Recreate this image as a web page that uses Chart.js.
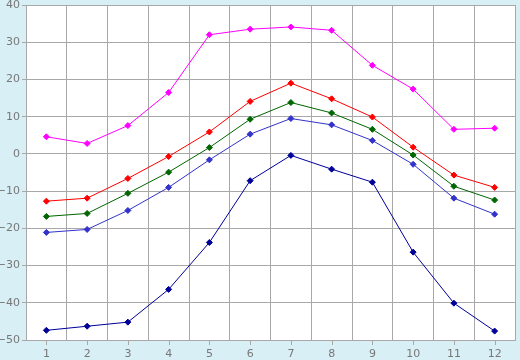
<!DOCTYPE html>
<html>
<head>
<meta charset="utf-8">
<script src="https://cdn.jsdelivr.net/npm/chart.js@4.4.1/dist/chart.umd.min.js"></script>
<style>
  html, body { margin: 0; padding: 0; background: #d9eff6; }
  #wrap { width: 520px; height: 360px; }
</style>
</head>
<body>
<div id="wrap"><canvas id="c" width="520" height="360"></canvas></div>
<script>
const categories = ['1', '2', '3', '4', '5', '6', '7', '8', '9', '10', '11', '12'];
const magentaSeries = [4.6, 2.8, 7.6, 16.5, 32.0, 33.5, 34.1, 33.2, 23.8, 17.4, 6.6, 6.9];
const redSeries = [-12.7, -11.9, -6.6, -0.7, 5.9, 14.1, 19.0, 14.8, 9.9, 1.8, -5.7, -9.0];
const greenSeries = [-16.8, -16.0, -10.6, -4.9, 1.7, 9.3, 13.8, 11.0, 6.6, -0.3, -8.7, -12.4];
const blueSeries = [-21.1, -20.3, -15.2, -9.0, -1.6, 5.3, 9.5, 7.8, 3.6, -2.8, -11.9, -16.2];
const navySeries = [-47.4, -46.3, -45.2, -36.4, -23.8, -7.2, -0.4, -4.1, -7.6, -26.4, -40.1, -47.6];
const yTicks = [-50, -40, -30, -20, -10, 0, 10, 20, 30, 40];

function ds(data, color) {
  return {
    data: data,
    borderColor: color,
    backgroundColor: color,
    borderWidth: 1,
    pointStyle: 'rectRot',
    pointRadius: 3,
    pointBorderWidth: 1,
    pointHoverRadius: 3,
    tension: 0,
    fill: false
  };
}

const plotBg = {
  id: 'plotBg',
  beforeDraw(chart) {
    const { ctx, chartArea: a } = chart;
    ctx.save();
    ctx.fillStyle = '#ffffff';
    ctx.fillRect(a.left, a.top, a.right - a.left, a.bottom - a.top);
    ctx.restore();
  },
  afterDraw(chart) {
    const { ctx, chartArea: a } = chart;
    const xs = chart.scales.x;
    ctx.save();
    ctx.strokeStyle = '#a8a8a8';
    ctx.lineWidth = 1;
    ctx.beginPath();
    for (let i = 0; i < categories.length; i++) {
      const px = Math.round(xs.getPixelForValue(i)) + 0.5;
      ctx.moveTo(px, a.bottom);
      ctx.lineTo(px, a.bottom + 5);
    }
    ctx.stroke();
    ctx.restore();
  }
};

const font = { family: '"DejaVu Sans", Verdana, sans-serif', size: 11 };

new Chart(document.getElementById('c'), {
  type: 'line',
  data: {
    labels: categories,
    datasets: [
      ds(magentaSeries, '#ff00ff'),
      ds(redSeries, '#ff0000'),
      ds(greenSeries, '#006600'),
      ds(blueSeries, '#3333cc'),
      ds(navySeries, '#000099')
    ]
  },
  options: {
    responsive: false,
    animation: false,
    devicePixelRatio: 1,
    layout: { padding: { top: 5, right: 5, left: 0, bottom: 0 } },
    plugins: { legend: { display: false }, tooltip: { enabled: false } },
    events: [],
    scales: {
      x: {
        type: 'category',
        offset: true,
        border: { display: true, color: '#a8a8a8', width: 1 },
        grid: { offset: true, color: '#a8a8a8', lineWidth: 1, drawTicks: false },
        ticks: { color: '#777777', font: font, padding: 8, maxRotation: 0, autoSkip: false },
        afterFit(s) { s.height = 20; s.paddingLeft = 0; s.paddingRight = 0; }
      },
      y: {
        min: -50,
        max: 40,
        border: { display: true, color: '#a8a8a8', width: 1 },
        grid: { color: '#a8a8a8', lineWidth: 1, drawTicks: true, tickLength: 4, tickColor: '#a8a8a8' },
        afterBuildTicks(s) { s.ticks = yTicks.map(v => ({ value: v })); },
        ticks: {
          color: '#777777',
          font: font,
          padding: 2,
          callback: v => (v < 0 ? '\u2212' + Math.abs(v) : String(v))
        },
        afterFit(s) { s.width = 26; s.paddingTop = 0; s.paddingBottom = 0; }
      }
    }
  },
  plugins: [plotBg]
});
</script>
</body>
</html>
